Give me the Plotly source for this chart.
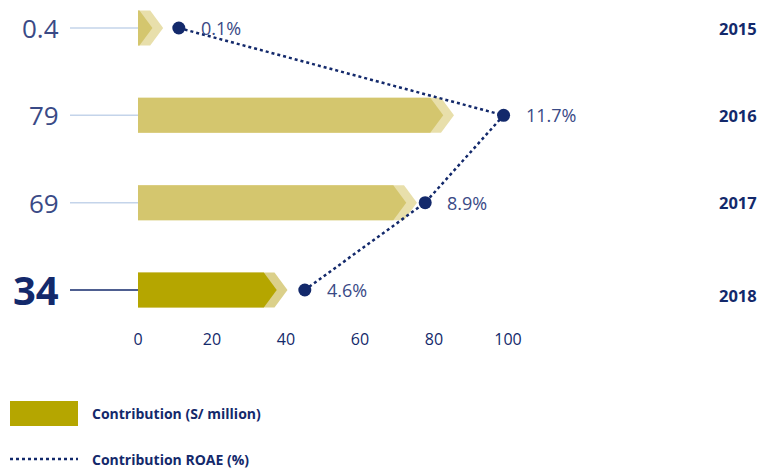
import plotly.graph_objects as go

# --- data ---
years = ["2015", "2016", "2017", "2018"]
contribution = [0.4, 79, 69, 34]            # S/ million
contribution_labels = ["0.4", "79", "69", "34"]
roae = [0.1, 11.7, 8.9, 4.6]                # %
roae_labels = ["0.1%", "11.7%", "8.9%", "4.6%"]
x_ticks = [0, 20, 40, 60, 80, 100]

# --- page geometry ---
W, H = 760, 469
MB = 141
PLOT_H = H - MB


def py(p):
    """pixel row (from top) -> paper y"""
    return (PLOT_H - p) / PLOT_H


def px(p):
    """pixel column -> paper x"""
    return p / W


NAVY = "#13296b"
SOFT_NAVY = "#3a4a86"
row_y = [3, 2, 1, 0]

TIP = 3.5      # depth of the arrow point, in axis units
HALF = 0.2     # half bar thickness, in row units
SHIFT = 2.9    # offset of the pale chevron behind each bar

colors = [("#d4c66e", "#e8dfab")] * 3 + [("#b5a600", "#dbd08a")]


def arrow(v, y, extra=0.0):
    end = v + extra
    xs = [0, end, end + TIP, end, 0, 0]
    ys = [y + HALF, y + HALF, y, y - HALF, y - HALF, y + HALF]
    return xs, ys


fig = go.Figure()

for v, y, (dark, light) in zip(contribution, row_y, colors):
    xs, ys = arrow(v, y, SHIFT)
    fig.add_trace(go.Scatter(x=xs, y=ys, fill="toself", fillcolor=light,
                             mode="lines", line=dict(width=0),
                             hoverinfo="skip", showlegend=False))
    xs, ys = arrow(v, y)
    fig.add_trace(go.Scatter(x=xs, y=ys, fill="toself", fillcolor=dark,
                             mode="lines", line=dict(width=0),
                             hoverinfo="skip", showlegend=False))

# ROAE dotted line on its own hidden axis
fig.add_trace(go.Scatter(x=roae, y=row_y, xaxis="x2", yaxis="y",
                         mode="lines+markers",
                         line=dict(color=NAVY, width=2.5, dash="dot"),
                         marker=dict(size=13, color=NAVY),
                         showlegend=False, cliponaxis=False))

annotations = []
shapes = []

for i, y in enumerate(row_y):
    last = i == len(row_y) - 1
    # connector from the value label to the bar
    shapes.append(dict(type="line", xref="paper", yref="y",
                       x0=px(70), x1=px(138), y0=y, y1=y,
                       line=dict(color=NAVY if last else "#c4d4ea", width=1.5)))
    annotations.append(dict(
        xref="paper", yref="y", x=px(61), y=y, xanchor="right", yanchor="middle",
        text=f"<b>{contribution_labels[i]}</b>" if last else contribution_labels[i],
        showarrow=False,
        font=dict(family="Open Sans", size=40 if last else 26,
                  color=NAVY if last else SOFT_NAVY)))
    annotations.append(dict(
        xref="x2", yref="y", x=roae[i], y=y, xanchor="left", yanchor="middle",
        xshift=20, text=roae_labels[i], showarrow=False,
        font=dict(family="Open Sans", size=18, color=SOFT_NAVY)))
    annotations.append(dict(
        xref="paper", yref="y", x=px(759), y=y, xanchor="right", yanchor="middle",
        yshift=-6 if last else 0,
        text=f"<b>{years[i]}</b>", showarrow=False,
        font=dict(family="Open Sans", size=16.5, color=NAVY)))

# legend
shapes.append(dict(type="rect", xref="paper", yref="paper",
                   x0=px(10), x1=px(78), y0=py(426), y1=py(401),
                   fillcolor="#b5a600", line=dict(width=0)))
shapes.append(dict(type="line", xref="paper", yref="paper",
                   x0=px(10), x1=px(78), y0=py(459), y1=py(459),
                   line=dict(color=NAVY, width=2.5, dash="dot")))
annotations.append(dict(xref="paper", yref="paper", x=px(90), y=py(413),
                        xanchor="left", yanchor="middle", showarrow=False,
                        text="<b>Contribution (S/ million)</b>",
                        font=dict(family="Open Sans", size=14, color=NAVY)))
annotations.append(dict(xref="paper", yref="paper", x=px(90), y=py(459),
                        xanchor="left", yanchor="middle", showarrow=False,
                        text="<b>Contribution ROAE (%)</b>",
                        font=dict(family="Open Sans", size=14, color=NAVY)))

X0_PX, X_SCALE = 138, 3.7          # contribution axis: 0 at px 138
R0_PX, R_SCALE = 176, 28.0         # ROAE axis

fig.update_layout(
    width=W, height=H,
    margin=dict(l=0, r=0, t=0, b=MB, pad=0),
    paper_bgcolor="white", plot_bgcolor="white",
    xaxis=dict(range=[-X0_PX / X_SCALE, (W - X0_PX) / X_SCALE],
               tickvals=x_ticks, ticktext=[str(t) for t in x_ticks],
               showgrid=False, zeroline=False, showline=False, ticks="",
               tickfont=dict(family="Open Sans", size=16, color=NAVY),
               fixedrange=True),
    xaxis2=dict(range=[-R0_PX / R_SCALE, (W - R0_PX) / R_SCALE],
                overlaying="x", visible=False, fixedrange=True),
    yaxis=dict(range=[-38 / 87.3, 3 + 28 / 87.3], visible=False,
               fixedrange=True),
    shapes=shapes,
    annotations=annotations,
    showlegend=False,
)

fig.write_html("out.html")
